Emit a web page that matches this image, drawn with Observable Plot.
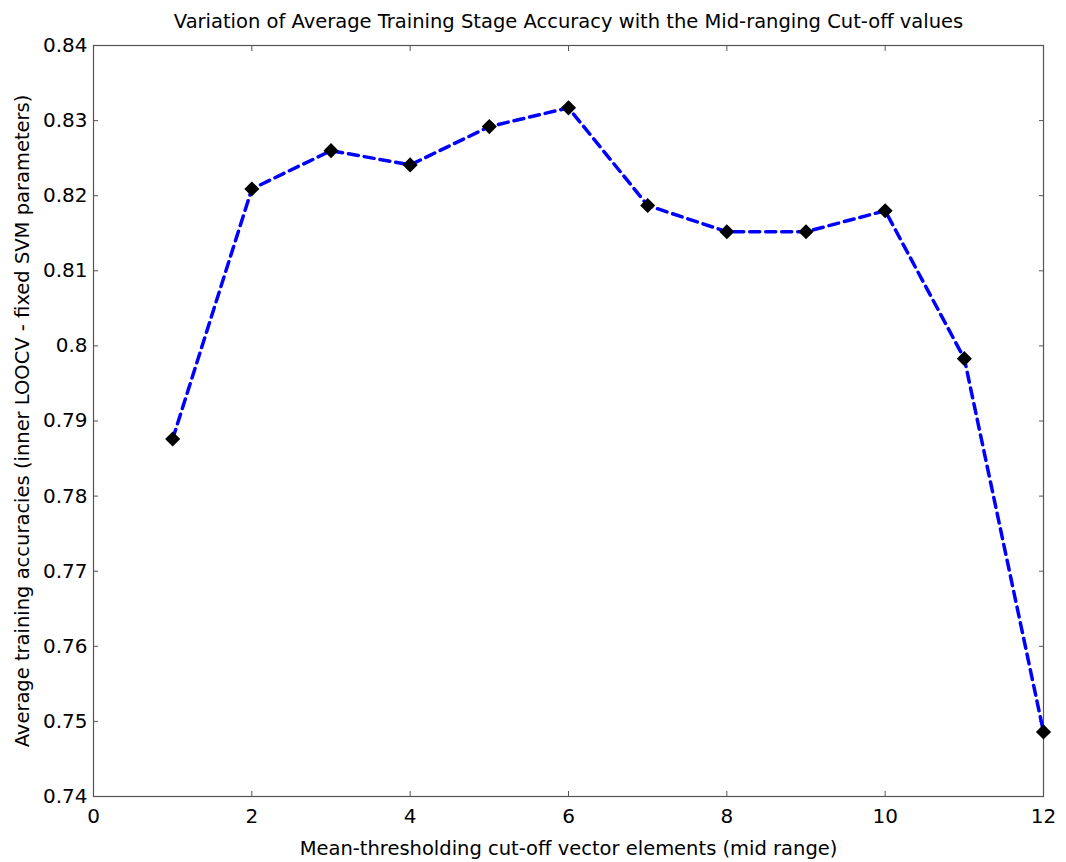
<!DOCTYPE html>
<html>
<head>
<meta charset="utf-8">
<script src="https://cdn.jsdelivr.net/npm/d3@7"></script>
<script src="https://cdn.jsdelivr.net/npm/@observablehq/plot@0.6"></script>
<style>
  body { margin: 0; background: #fff; }
  #chart svg { display: block; }
</style>
</head>
<body>
<div id="chart"></div>
<script>
const cutoffs = [1, 2, 3, 4, 5, 6, 7, 8, 9, 10, 11, 12];
const accuracies = [0.7876, 0.8209, 0.8260, 0.8241, 0.8292, 0.8317, 0.8187, 0.8152, 0.8152, 0.8180, 0.7983, 0.7486];
const xTicks = [0, 2, 4, 6, 8, 10, 12];
const yTicks = [0.74, 0.75, 0.76, 0.77, 0.78, 0.79, 0.8, 0.81, 0.82, 0.83, 0.84];
const titleText = "Variation of Average Training Stage Accuracy with the Mid-ranging Cut-off values";
const xLabel = "Mean-thresholding cut-off vector elements (mid range)";
const yLabel = "Average training accuracies (inner LOOCV - fixed SVM parameters)";

const data = cutoffs.map((c, i) => ({x: c, y: accuracies[i]}));
const axisColor = "#555";

const chart = Plot.plot({
  width: 1066,
  height: 862,
  marginLeft: 93,
  marginRight: 23,
  marginTop: 45,
  marginBottom: 66,
  style: {fontFamily: "'DejaVu Sans', sans-serif", fontSize: "19px", color: "#000", background: "#fff"},
  x: {domain: [0, 12]},
  y: {domain: [0.74, 0.84]},
  marks: [
    Plot.frame({stroke: axisColor, strokeWidth: 1.2}),
    Plot.axisX({ticks: xTicks, tickSize: 0, tickPadding: 12, tickFormat: d => String(d), label: null, fill: "#000", fontSize: 20}),
    Plot.axisX({ticks: xTicks, tickSize: -5, stroke: axisColor, tickFormat: () => "", label: null}),
    Plot.axisX({anchor: "top", ticks: xTicks, tickSize: -5, stroke: axisColor, tickFormat: () => "", label: null}),
    Plot.axisY({ticks: yTicks, tickSize: 0, tickPadding: 6, tickFormat: d => String(d), label: null, fill: "#000", fontSize: 20}),
    Plot.axisY({ticks: yTicks, tickSize: -5, stroke: axisColor, tickFormat: () => "", label: null}),
    Plot.axisY({anchor: "right", ticks: yTicks, tickSize: -5, stroke: axisColor, tickFormat: () => "", label: null}),
    Plot.line(data, {x: "x", y: "y", stroke: "#0000ff", strokeWidth: 3.5, strokeDasharray: "10,6"}),
    Plot.dot(data, {x: "x", y: "y", symbol: "diamond2", r: 6.8, fill: "#000", stroke: "none"}),
    Plot.text([titleText], {frameAnchor: "top", dy: -24, fontSize: 19.5, fill: "#000", lineAnchor: "middle", textAnchor: "middle"}),
    Plot.text([xLabel], {frameAnchor: "bottom", dy: 52, fontSize: 19.5, fill: "#000", lineAnchor: "middle", textAnchor: "middle"}),
    Plot.text([yLabel], {frameAnchor: "left", dx: -71, rotate: -90, fontSize: 19.5, fill: "#000", lineAnchor: "middle", textAnchor: "middle"})
  ]
});
document.getElementById("chart").appendChild(chart);
</script>
</body>
</html>
